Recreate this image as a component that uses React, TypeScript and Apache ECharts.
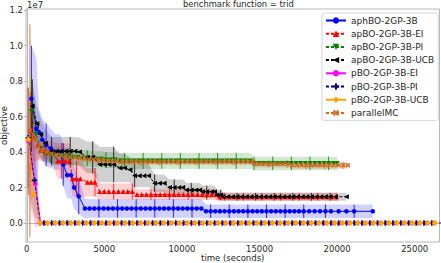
import React, { useEffect, useRef } from "react";
import * as echarts from "echarts";

// each point: [time (seconds), mean objective (x1e7), std (x1e7)]
type Pt = [number, number, number];

const seriesNames = [
  "aphBO-2GP-3B",
  "apBO-2GP-3B-EI",
  "apBO-2GP-3B-PI",
  "apBO-2GP-3B-UCB",
  "pBO-2GP-3B-EI",
  "pBO-2GP-3B-PI",
  "pBO-2GP-3B-UCB",
  "parallelMC",
];
const xTicks = [0, 5000, 10000, 15000, 20000, 25000];
const yTicks = [0, 0.2, 0.4, 0.6, 0.8, 1.0, 1.2];
const titleText = "benchmark function = trid";
const xName = "time (seconds)";
const yName = "objective";
const yScaleLabel = "1e7";

const aphBO: Pt[] = [
  [300, 0.7, 0.3], [620, 0.53, 0.4], [800, 0.51, 0.13], [1000, 0.47, 0.12], [1250, 0.44, 0.12],
  [1550, 0.42, 0.11], [1850, 0.4, 0.1], [2150, 0.4, 0.1], [2350, 0.33, 0.12], [2600, 0.27, 0.13],
  [2850, 0.27, 0.13], [3050, 0.2, 0.12], [3350, 0.15, 0.1], [3750, 0.082, 0.055], [4050, 0.082, 0.052],
  [4350, 0.082, 0.052], [4650, 0.082, 0.052], [4950, 0.082, 0.052], [5250, 0.082, 0.052], [5550, 0.082, 0.052],
  [5850, 0.082, 0.052], [6150, 0.082, 0.052], [6450, 0.082, 0.052], [6750, 0.082, 0.052], [7050, 0.082, 0.052],
  [7350, 0.082, 0.052], [7650, 0.082, 0.052], [7950, 0.082, 0.052], [8250, 0.082, 0.052], [8550, 0.082, 0.052],
  [8850, 0.082, 0.052], [9150, 0.082, 0.052], [9450, 0.082, 0.052], [9750, 0.082, 0.052], [10050, 0.082, 0.052],
  [10350, 0.082, 0.052], [10650, 0.082, 0.052], [10950, 0.082, 0.052], [11250, 0.082, 0.052], [11550, 0.066, 0.038],
  [11850, 0.066, 0.038], [12150, 0.066, 0.038], [12450, 0.066, 0.038], [12750, 0.066, 0.038], [13050, 0.066, 0.038],
  [13350, 0.066, 0.038], [13650, 0.066, 0.038], [13950, 0.066, 0.038], [14250, 0.066, 0.038], [14550, 0.066, 0.038],
  [14850, 0.066, 0.038], [15150, 0.066, 0.038], [15450, 0.066, 0.038], [15750, 0.066, 0.038], [16050, 0.066, 0.038],
  [16350, 0.066, 0.038], [16650, 0.066, 0.038], [16950, 0.066, 0.038], [17250, 0.066, 0.038], [17550, 0.066, 0.038],
  [17850, 0.066, 0.038], [18200, 0.066, 0.038], [18550, 0.066, 0.038], [18900, 0.066, 0.038], [19250, 0.066, 0.038],
  [19600, 0.066, 0.038], [20100, 0.066, 0.038], [20600, 0.066, 0.038], [21100, 0.066, 0.038], [22300, 0.066, 0.038],
];

const apboEI: Pt[] = [
  [250, 0.52, 0.22], [450, 0.48, 0.14], [700, 0.44, 0.08], [900, 0.41, 0.06], [1100, 0.41, 0.06],
  [1350, 0.4, 0.06], [1650, 0.4, 0.06], [2000, 0.35, 0.1], [2250, 0.35, 0.1], [2500, 0.35, 0.1],
  [2750, 0.35, 0.1], [2960, 0.25, 0.1], [3200, 0.25, 0.1], [3450, 0.25, 0.1], [3900, 0.23, 0.08],
  [4150, 0.23, 0.08], [4400, 0.23, 0.08], [4700, 0.178, 0.045], [5000, 0.178, 0.045], [5300, 0.178, 0.045],
  [5600, 0.178, 0.045], [5900, 0.178, 0.045], [6200, 0.178, 0.045], [6500, 0.178, 0.045], [6800, 0.178, 0.045],
  [7100, 0.16, 0.03], [7400, 0.16, 0.03], [7700, 0.16, 0.03], [8000, 0.16, 0.03], [8300, 0.16, 0.03],
  [8600, 0.16, 0.03], [8900, 0.16, 0.03], [9200, 0.16, 0.03], [9500, 0.16, 0.03], [9800, 0.16, 0.03],
  [10100, 0.16, 0.03], [10400, 0.16, 0.03], [10700, 0.16, 0.03], [11000, 0.16, 0.03], [11300, 0.16, 0.03],
  [11600, 0.16, 0.03], [11900, 0.16, 0.03], [12200, 0.16, 0.03], [12450, 0.148, 0.022], [12750, 0.148, 0.022],
  [13050, 0.148, 0.022], [13350, 0.148, 0.022], [13650, 0.148, 0.022], [13950, 0.148, 0.022], [14250, 0.148, 0.022],
  [14550, 0.148, 0.022], [14850, 0.148, 0.022], [15150, 0.148, 0.022], [15450, 0.148, 0.022], [15750, 0.148, 0.022],
  [16050, 0.148, 0.022], [16350, 0.148, 0.022], [16650, 0.148, 0.022], [16950, 0.148, 0.022], [17250, 0.148, 0.022],
  [17550, 0.148, 0.022], [17850, 0.148, 0.022], [18150, 0.148, 0.022], [18450, 0.148, 0.022], [18750, 0.148, 0.022],
  [19050, 0.148, 0.022], [19350, 0.148, 0.022], [19650, 0.148, 0.022], [19950, 0.148, 0.022],
];

const apboPI: Pt[] = [
  [300, 0.63, 0.2], [600, 0.5, 0.1], [900, 0.42, 0.06], [1200, 0.39, 0.05], [1500, 0.385, 0.045],
  [1800, 0.38, 0.045], [2100, 0.38, 0.045], [2400, 0.375, 0.045], [2700, 0.375, 0.045], [3000, 0.37, 0.045],
  [3300, 0.37, 0.045], [3600, 0.365, 0.045], [3900, 0.365, 0.045], [4200, 0.36, 0.045], [4500, 0.36, 0.045],
  [4800, 0.36, 0.045], [5100, 0.355, 0.045], [5400, 0.355, 0.045], [5700, 0.355, 0.045], [6000, 0.35, 0.045],
  [6300, 0.35, 0.045], [6600, 0.35, 0.045], [6900, 0.35, 0.045], [7200, 0.35, 0.045], [7500, 0.35, 0.045],
  [7800, 0.35, 0.045], [8100, 0.35, 0.045], [8400, 0.35, 0.045], [8700, 0.35, 0.045], [9000, 0.35, 0.045],
  [9300, 0.35, 0.045], [9600, 0.35, 0.045], [9900, 0.35, 0.045], [10200, 0.35, 0.045], [10500, 0.35, 0.045],
  [10800, 0.35, 0.045], [11100, 0.35, 0.045], [11400, 0.35, 0.045], [11700, 0.35, 0.045], [12000, 0.35, 0.045],
  [12300, 0.35, 0.045], [12600, 0.35, 0.045], [12900, 0.35, 0.045], [13200, 0.35, 0.045], [13500, 0.35, 0.045],
  [13800, 0.35, 0.045], [14100, 0.35, 0.045], [14400, 0.35, 0.045], [14650, 0.336, 0.038], [14950, 0.336, 0.038],
  [15250, 0.336, 0.038], [15550, 0.336, 0.038], [15850, 0.336, 0.038], [16150, 0.336, 0.038], [16450, 0.336, 0.038],
  [16750, 0.336, 0.038], [17050, 0.336, 0.038], [17350, 0.336, 0.038], [17650, 0.336, 0.038], [17950, 0.336, 0.038],
  [18250, 0.336, 0.038], [18550, 0.336, 0.038], [18850, 0.336, 0.038], [19150, 0.336, 0.038], [19450, 0.336, 0.038],
  [19750, 0.336, 0.038], [20000, 0.336, 0.038],
];

const apboUCB: Pt[] = [
  [350, 0.66, 0.15], [650, 0.56, 0.1], [900, 0.5, 0.09], [1200, 0.45, 0.08], [1600, 0.405, 0.08],
  [1900, 0.405, 0.08], [2200, 0.405, 0.08], [2500, 0.405, 0.08], [2800, 0.405, 0.08], [3100, 0.405, 0.08],
  [3400, 0.4, 0.08], [3900, 0.37, 0.09], [4250, 0.37, 0.09], [4700, 0.33, 0.1], [5000, 0.33, 0.1],
  [5300, 0.33, 0.1], [5600, 0.33, 0.1], [6000, 0.31, 0.08], [6300, 0.31, 0.08], [6650, 0.3, 0.07],
  [6950, 0.267, 0.065], [7250, 0.267, 0.065], [7550, 0.267, 0.065], [7850, 0.267, 0.065], [8240, 0.224, 0.05],
  [8550, 0.224, 0.05], [8850, 0.224, 0.05], [9200, 0.2, 0.045], [9500, 0.2, 0.045], [9800, 0.2, 0.045],
  [10050, 0.2, 0.045], [10300, 0.186, 0.04], [10600, 0.186, 0.04], [10900, 0.186, 0.04], [11150, 0.186, 0.04],
  [11330, 0.176, 0.035], [11600, 0.176, 0.035], [11900, 0.176, 0.035], [12100, 0.176, 0.035], [12250, 0.158, 0.03],
  [12500, 0.158, 0.03], [12650, 0.148, 0.022], [12950, 0.148, 0.022], [13250, 0.148, 0.022], [13550, 0.148, 0.022],
  [13850, 0.148, 0.022], [14150, 0.148, 0.022], [14450, 0.148, 0.022], [14750, 0.148, 0.022], [15050, 0.148, 0.022],
  [15350, 0.148, 0.022], [15650, 0.148, 0.022], [15950, 0.148, 0.022], [16250, 0.148, 0.022], [16550, 0.148, 0.022],
  [16850, 0.148, 0.022], [17150, 0.148, 0.022], [17450, 0.148, 0.022], [17750, 0.148, 0.022], [18050, 0.148, 0.022],
  [18350, 0.148, 0.022], [18650, 0.148, 0.022], [18950, 0.148, 0.022], [19250, 0.148, 0.022], [19550, 0.148, 0.022],
  [19900, 0.148, 0.022], [20600, 0.148, 0.022],
];

const pboEI: Pt[] = [
  [100, 0.46, 0.3], [550, 0.22, 0.25], [900, 0, 0], [1250, 0, 0], [1750, 0, 0], [2250, 0, 0], [2750, 0, 0],
  [3250, 0, 0], [3750, 0, 0], [4250, 0, 0], [4750, 0, 0], [5250, 0, 0], [5750, 0, 0], [6250, 0, 0],
  [6750, 0, 0], [7250, 0, 0], [7750, 0, 0], [8250, 0, 0], [8750, 0, 0], [9250, 0, 0], [9750, 0, 0],
  [10250, 0, 0], [10750, 0, 0], [11250, 0, 0], [11750, 0, 0], [12250, 0, 0], [12750, 0, 0], [13250, 0, 0],
  [13750, 0, 0], [14250, 0, 0], [14750, 0, 0], [15250, 0, 0], [15750, 0, 0], [16250, 0, 0], [16750, 0, 0],
  [17250, 0, 0], [17750, 0, 0], [18250, 0, 0], [18750, 0, 0], [19250, 0, 0], [19750, 0, 0], [20250, 0, 0],
  [20750, 0, 0], [21250, 0, 0], [21750, 0, 0], [22250, 0, 0], [22750, 0, 0], [23250, 0, 0], [23750, 0, 0],
  [24250, 0, 0], [24750, 0, 0], [25250, 0, 0], [25750, 0, 0], [26250, 0, 0],
];

const pboPI: Pt[] = [
  [100, 0.48, 0.28], [500, 0.24, 0.2], [850, 0, 0], [1100, 0, 0], [1600, 0, 0], [2100, 0, 0], [2600, 0, 0],
  [3100, 0, 0], [3600, 0, 0], [4100, 0, 0], [4600, 0, 0], [5100, 0, 0], [5600, 0, 0], [6100, 0, 0],
  [6600, 0, 0], [7100, 0, 0], [7600, 0, 0], [8100, 0, 0], [8600, 0, 0], [9100, 0, 0], [9600, 0, 0],
  [10100, 0, 0], [10600, 0, 0], [11100, 0, 0], [11600, 0, 0], [12100, 0, 0], [12600, 0, 0], [13100, 0, 0],
  [13600, 0, 0], [14100, 0, 0], [14600, 0, 0], [15100, 0, 0], [15600, 0, 0], [16100, 0, 0], [16600, 0, 0],
  [17100, 0, 0], [17600, 0, 0], [18100, 0, 0], [18600, 0, 0], [19100, 0, 0], [19600, 0, 0], [20100, 0, 0],
  [20600, 0, 0], [21100, 0, 0], [21600, 0, 0], [22100, 0, 0], [22600, 0, 0], [23100, 0, 0], [23600, 0, 0],
  [24100, 0, 0], [24600, 0, 0], [25100, 0, 0], [25600, 0, 0], [26100, 0, 0], [26700, 0, 0],
];

const pboUCB: Pt[] = [
  [100, 0.47, 0.3], [450, 0.16, 0.14], [850, 0, 0], [1350, 0, 0], [1850, 0, 0], [2350, 0, 0], [2850, 0, 0],
  [3350, 0, 0], [3850, 0, 0], [4350, 0, 0], [4850, 0, 0], [5350, 0, 0], [5850, 0, 0], [6350, 0, 0],
  [6850, 0, 0], [7350, 0, 0], [7850, 0, 0], [8350, 0, 0], [8850, 0, 0], [9350, 0, 0], [9850, 0, 0],
  [10350, 0, 0], [10850, 0, 0], [11350, 0, 0], [11850, 0, 0], [12350, 0, 0], [12850, 0, 0], [13350, 0, 0],
  [13850, 0, 0], [14350, 0, 0], [14850, 0, 0], [15350, 0, 0], [15850, 0, 0], [16350, 0, 0], [16850, 0, 0],
  [17350, 0, 0], [17850, 0, 0], [18350, 0, 0], [18850, 0, 0], [19350, 0, 0], [19850, 0, 0], [20350, 0, 0],
  [20850, 0, 0], [21350, 0, 0], [21850, 0, 0], [22350, 0, 0], [22850, 0, 0], [23350, 0, 0], [23850, 0, 0],
  [24350, 0, 0], [24850, 0, 0], [25350, 0, 0], [25850, 0, 0], [26300, 0, 0],
];

const parallelMC: Pt[] = [
  [200, 0.52, 0.6], [450, 0.47, 0.18], [750, 0.43, 0.07], [1000, 0.41, 0.04], [1300, 0.4, 0.03],
  [1600, 0.39, 0.025], [1900, 0.385, 0.02], [2200, 0.38, 0.02], [2500, 0.375, 0.02], [2800, 0.37, 0.02],
  [3100, 0.37, 0.02], [3400, 0.365, 0.02], [3700, 0.365, 0.02], [4000, 0.36, 0.02], [4300, 0.36, 0.02],
  [4600, 0.355, 0.02], [4900, 0.355, 0.02], [5200, 0.35, 0.02], [5500, 0.35, 0.02], [5800, 0.348, 0.02],
  [6150, 0.345, 0.02], [6450, 0.345, 0.02], [6750, 0.345, 0.02], [7050, 0.345, 0.02], [7350, 0.345, 0.02],
  [7650, 0.345, 0.02], [7950, 0.345, 0.02], [8250, 0.345, 0.02], [8550, 0.345, 0.02], [8850, 0.345, 0.02],
  [9150, 0.345, 0.02], [9450, 0.345, 0.02], [9750, 0.345, 0.02], [10050, 0.345, 0.02], [10350, 0.345, 0.02],
  [10650, 0.345, 0.02], [10950, 0.345, 0.02], [11250, 0.345, 0.02], [11550, 0.345, 0.02], [11850, 0.345, 0.02],
  [12150, 0.345, 0.02], [12450, 0.345, 0.02], [12750, 0.345, 0.02], [13050, 0.345, 0.02], [13350, 0.345, 0.02],
  [13650, 0.345, 0.02], [13950, 0.345, 0.02], [14250, 0.345, 0.02], [14550, 0.345, 0.02], [14700, 0.332, 0.02],
  [15000, 0.332, 0.02], [15300, 0.332, 0.02], [15600, 0.332, 0.02], [15900, 0.332, 0.02], [16200, 0.332, 0.02],
  [16500, 0.332, 0.02], [16800, 0.332, 0.02], [17100, 0.325, 0.02], [17400, 0.325, 0.02], [17700, 0.325, 0.02],
  [18000, 0.325, 0.02], [18300, 0.325, 0.02], [18600, 0.325, 0.02], [18900, 0.325, 0.02], [19200, 0.325, 0.02],
  [19500, 0.325, 0.02], [19800, 0.325, 0.02], [20100, 0.325, 0.02], [20400, 0.325, 0.02], [20700, 0.325, 0.02],
];

const allData: Pt[][] = [aphBO, apboEI, apboPI, apboUCB, pboEI, pboPI, pboUCB, parallelMC];

const STYLES = [
  { color: "#0000ff", symbol: "circle", size: 4.5, dashed: false },
  { color: "#ff0000", symbol: "triangle", size: 5, dashed: true },
  { color: "#008000", symbol: "path://M0,0L10,0L5,10Z", size: 5, dashed: true },
  { color: "#000000", symbol: "path://M10,0L10,10L0,5Z", size: 5, dashed: true },
  { color: "#ff00ff", symbol: "circle", size: 4.5, dashed: false },
  { color: "#000080", symbol: "path://M3.5,0H6.5V3.5H10V6.5H6.5V10H3.5V6.5H0V3.5H3.5Z", size: 5.5, dashed: true },
  { color: "#ffa500", symbol: "diamond", size: 6.5, dashed: false },
  { color: "#d2691e", symbol: "path://M0,2L2,0L5,3L8,0L10,2L7,5L10,8L8,10L5,7L2,10L0,8L3,5Z", size: 5, dashed: true },
];

const TEXT = "#262626";
const SPINE = "#b8b8b8";
const FONT = "DejaVu Sans";

function buildOption() {
  const bands: any[] = [];
  const errs: any[] = [];
  const lines: any[] = [];
  allData.forEach((pts, k) => {
    const st = STYLES[k];
    const name = seriesNames[k];
    bands.push({
      type: "custom",
      name: name + " (band)",
      silent: true,
      clip: true,
      z: 1,
      data: pts.map((p) => [p[0], p[1]]),
      encode: { x: 0, y: 1 },
      renderItem: (params: any, api: any) => {
        if (params.dataIndex !== 0) return null;
        const up: number[][] = [];
        const lo: number[][] = [];
        pts.forEach((p) => {
          up.push(api.coord([p[0], p[1] + p[2]]));
          lo.push(api.coord([p[0], p[1] - p[2]]));
        });
        return {
          type: "polygon",
          shape: { points: up.concat(lo.reverse()) },
          style: { fill: st.color, opacity: 0.18 },
        };
      },
    });
    errs.push({
      type: "custom",
      name: name + " (err)",
      silent: true,
      clip: true,
      z: 2,
      data: pts
        .filter((p, i) => i % 4 === 0 && p[2] > 0.005)
        .map((p) => [p[0], p[1] - p[2], p[1] + p[2]]),
      encode: { x: 0, y: [1, 2] },
      renderItem: (params: any, api: any) => {
        const a = api.coord([api.value(0), api.value(1)]);
        const b = api.coord([api.value(0), api.value(2)]);
        return {
          type: "line",
          shape: { x1: a[0], y1: a[1], x2: b[0], y2: b[1] },
          style: { stroke: st.color, lineWidth: 1, opacity: 0.8 },
        };
      },
    });
    lines.push({
      type: "line",
      name,
      z: 3,
      silent: true,
      clip: true,
      data: pts.map((p) => [p[0], p[1]]),
      symbol: st.symbol,
      symbolSize: st.size,
      showSymbol: true,
      showAllSymbol: true,
      itemStyle: { color: st.color },
      lineStyle: { color: st.color, width: 1, type: st.dashed ? [3, 2] : "solid" },
    });
  });

  return {
    animation: false,
    backgroundColor: "#ffffff",
    textStyle: { fontFamily: FONT },
    title: {
      text: titleText,
      left: 183,
      top: 0,
      padding: 0,
      textStyle: { fontSize: 8.4, fontWeight: "normal", color: TEXT, fontFamily: FONT },
    },
    grid: {
      left: 26,
      right: 1.5,
      top: 9,
      bottom: 21,
      containLabel: false,
      outerBoundsMode: "none",
      show: true,
      borderColor: SPINE,
      borderWidth: 1,
      backgroundColor: "transparent",
    },
    legend: {
      data: seriesNames,
      orient: "vertical",
      left: 322,
      top: 13,
      itemWidth: 20,
      itemHeight: 8,
      itemGap: 4.2,
      padding: [3, 4, 3, 3],
      backgroundColor: "#ffffff",
      borderColor: "#d6d6d6",
      borderWidth: 1,
      borderRadius: 2,
      textStyle: { fontSize: 9, lineHeight: 9, color: TEXT, fontFamily: FONT },
      selectedMode: false,
    },
    xAxis: {
      type: "value",
      min: -50,
      max: 26600,
      minInterval: 5000,
      maxInterval: 5000,
      name: xName,
      nameLocation: "middle",
      nameGap: 11,
      nameMoveOverlap: false,
      nameTextStyle: { fontSize: 8.5, color: TEXT, fontFamily: FONT, lineHeight: 9 },
      axisLine: { show: true, lineStyle: { color: SPINE } },
      axisTick: { show: true, length: 3, lineStyle: { color: SPINE }, customValues: xTicks },
      axisLabel: {
        fontSize: 8.5,
        lineHeight: 9,
        color: TEXT,
        margin: 2,
        interval: 0,
        customValues: xTicks,
        formatter: (v: number) => String(v),
        fontFamily: FONT,
      },
      splitLine: { show: false },
    },
    yAxis: {
      type: "value",
      min: -0.107,
      max: 1.206,
      minInterval: 0.2,
      maxInterval: 0.2,
      name: yName,
      nameLocation: "middle",
      nameGap: 17,
      nameMoveOverlap: false,
      nameTextStyle: { fontSize: 8.5, color: TEXT, fontFamily: FONT, lineHeight: 10 },
      axisLine: { show: true, lineStyle: { color: SPINE } },
      axisTick: { show: true, length: 3, lineStyle: { color: SPINE }, customValues: yTicks },
      axisLabel: {
        fontSize: 8.5,
        color: TEXT,
        margin: 3,
        interval: 0,
        customValues: yTicks,
        formatter: (v: number) => v.toFixed(1),
        fontFamily: FONT,
      },
      splitLine: { show: false },
    },
    graphic: [
      {
        type: "text",
        left: 27,
        top: 0,
        style: { text: yScaleLabel, fontSize: 8.5, fill: TEXT, fontFamily: FONT },
      },
    ],
    series: [...bands, ...errs, ...lines],
  };
}

export default function App() {
  const ref = useRef<HTMLDivElement>(null);
  useEffect(() => {
    const chart = echarts.init(ref.current as HTMLDivElement, undefined, { renderer: "svg" });
    chart.setOption(buildOption() as any);
    return () => chart.dispose();
  }, []);
  return (
    <div
      ref={ref}
      style={{ position: "fixed", left: 0, top: 0, width: 441, height: 263, background: "#fff" }}
    />
  );
}
